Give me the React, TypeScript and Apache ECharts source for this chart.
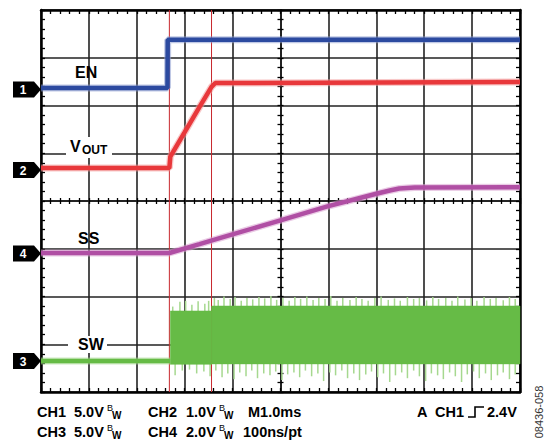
import React, { useEffect, useRef } from "react";
import * as echarts from "echarts";

// Horizontal: time in ms from screen centre (M1.0ms per division, 10 divisions)
// Vertical: each channel in volts, placed by its own V/div and ground marker

const enTime = [-5.0, -2.36, -2.355, 5.0];
const enVolts = [0, 0, 5.05, 5.05];

const voutTime = [-5.0, -2.32, -2.3, -2.0, -1.69, -1.44, -1.36, 5.0];
const voutVolts = [0, 0, 0.24, 0.75, 1.28, 1.7, 1.78, 1.8];

const ssTime = [-5.0, -2.32, -1.69, -1.27, 0, 0.98, 1.98, 2.28, 2.48, 2.8, 5.0];
const ssVolts = [0, 0, 0.37, 0.62, 1.37, 1.95, 2.47, 2.62, 2.7, 2.74, 2.75];

const swLowTime = [-5.0, -2.3];
const swLowVolts = [0, 0];

const swBandTime = [-2.3, -1.44, -1.43, 5.0];
const swBandHigh = [5.24, 5.24, 5.76, 5.76];
const swBandLow = [-0.35, -0.35, -0.3, -0.3];

const swSpikeUpTime = [-2.25, -2.1, -1.98, -1.85, -1.72, -1.58, -1.5, -1.38, -1.3, -1.18, -1.05, -0.95, -0.82, -0.7, -0.58, -0.45, -0.33, -0.2, -0.08, 0.05, 0.18, 0.3, 0.42, 0.55, 0.68, 0.8, 0.93, 1.05, 1.18, 1.3, 1.45, 1.58, 1.7, 1.83, 1.97, 2.1, 2.25, 2.38, 2.5, 2.65, 2.78, 2.9, 3.05, 3.18, 3.3, 3.45, 3.58, 3.7, 3.85, 3.98, 4.1, 4.25, 4.38, 4.5, 4.65, 4.78, 4.9];
const swSpikeUpVolts = [5.7, 6.2, 6.3, 5.9, 6.25, 6.0, 6.3, 6.6, 6.4, 6.75, 6.5, 6.7, 6.3, 6.6, 6.45, 6.7, 6.55, 6.8, 6.4, 6.6, 6.3, 6.7, 6.5, 6.75, 6.4, 6.6, 6.5, 6.8, 6.3, 6.6, 6.4, 6.7, 6.5, 6.3, 6.6, 6.75, 6.4, 6.55, 6.3, 6.7, 6.5, 6.6, 6.35, 6.7, 6.5, 6.6, 6.3, 6.75, 6.45, 6.6, 6.3, 6.7, 6.5, 6.6, 6.35, 6.7, 6.5];

const swSpikeDownTime = [-2.2, -2.05, -1.9, -1.75, -1.6, -1.47, -1.35, -1.22, -1.1, -0.97, -0.85, -0.72, -0.6, -0.48, -0.35, -0.22, -0.1, 0.03, 0.15, 0.28, 0.4, 0.52, 0.65, 0.78, 0.9, 1.03, 1.15, 1.28, 1.4, 1.53, 1.65, 1.78, 1.9, 2.03, 2.15, 2.28, 2.4, 2.53, 2.65, 2.78, 2.9, 3.03, 3.15, 3.28, 3.4, 3.53, 3.65, 3.78, 3.9, 4.03, 4.15, 4.28, 4.4, 4.53, 4.65, 4.78, 4.9];
const swSpikeDownVolts = [-1.5, -1.0, -0.9, -1.3, -1.1, -1.6, -1.0, -1.7, -1.3, -1.9, -1.2, -1.6, -1.0, -1.8, -1.3, -1.5, -1.1, -2.0, -1.4, -1.2, -1.7, -1.0, -1.6, -1.3, -2.1, -1.2, -1.5, -1.0, -1.8, -1.3, -2.0, -1.4, -1.1, -1.7, -1.3, -2.2, -1.5, -1.2, -1.8, -1.0, -1.6, -2.1, -1.3, -1.5, -1.9, -1.2, -1.6, -2.2, -1.4, -1.1, -1.8, -1.3, -2.0, -1.5, -1.2, -1.9, -1.4];

const cursorTime = [-2.32, -1.44];

const channelMarkers = ["1", "2", "4", "3"];

const row1Left = ["CH1", "5.0V", "CH2", "1.0V", "M1.0ms"];
const row2Left = ["CH3", "5.0V", "CH4", "2.0V", "100ns/pt"];
const triggerText = ["A", "CH1", "2.4V"];

// scope channel settings: V/div and ground level (divisions from screen centre)
const CH = {
  en: { scale: 5, ground: 2.366 },
  vout: { scale: 1, ground: 0.691 },
  ss: { scale: 2, ground: -1.089 },
  sw: { scale: 5, ground: -3.351 },
};

const toDiv = (v: number, ch: { scale: number; ground: number }) => ch.ground + v / ch.scale;
const pairs = (t: number[], v: number[], ch: { scale: number; ground: number }) =>
  t.map((x, i) => [x, toDiv(v[i], ch)]);

const FONT = 'Arial, "Liberation Sans", sans-serif';

function makeAxes(dim: "x" | "y") {
  const min = dim === "x" ? -5 : -4;
  const max = dim === "x" ? 5 : 4;
  const base = {
    type: "value",
    min,
    max,
    interval: 1,
    axisLabel: { show: false },
    splitLine: { show: false },
  };
  const border = (position: string, split: boolean) => ({
    ...base,
    position,
    axisLine: { show: true, onZero: false, lineStyle: { color: "#000", width: 2.5 } },
    axisTick: { show: true, inside: true, length: 4, lineStyle: { color: "#000", width: 1.3 } },
    minorTick: { show: true, splitNumber: 5, length: 4, lineStyle: { color: "#000", width: 1.3 } },
    splitLine: { show: split, lineStyle: { color: "#222", width: 1.6 } },
  });
  const centre = (position: string, inside: boolean) => ({
    ...base,
    position,
    axisLine: { show: true, onZero: true, onZeroAxisIndex: 0, lineStyle: { color: "#222", width: 1.6 } },
    axisTick: { show: true, inside, length: 3, lineStyle: { color: "#000", width: 1.3 } },
    minorTick: { show: true, splitNumber: 5, length: 3, lineStyle: { color: "#000", width: 1.3 } },
  });
  return dim === "x"
    ? [border("bottom", true), border("top", false), centre("bottom", true), centre("bottom", false)]
    : [border("left", true), border("right", false), centre("left", true), centre("left", false)];
}

function markerGraphic(label: string, cy: number) {
  return {
    type: "group",
    z: 20,
    children: [
      {
        type: "polygon",
        shape: { points: [[13, cy - 8], [34, cy - 8], [41, cy], [34, cy + 8], [13, cy + 8]] },
        style: { fill: "#000" },
      },
      {
        type: "text",
        x: 23,
        y: cy + 0.5,
        style: { text: label, fill: "#fff", fontSize: 12, fontWeight: "bold", fontFamily: FONT, align: "center", verticalAlign: "middle" },
      },
    ],
  };
}

function txt(text: string, x: number, y: number, size = 14.5, extra: any = {}) {
  return {
    type: "text",
    x,
    y,
    z: 20,
    style: { text, fill: "#000", fontSize: size, fontWeight: "bold", fontFamily: FONT, align: "left", verticalAlign: "middle", ...extra },
  };
}

function bw(x: number, y: number) {
  return [txt("B", x, y - 4, 9, { fontWeight: "normal" }), txt("W", x + 5, y + 3, 10)];
}

export default function App() {
  const ref = useRef<HTMLDivElement>(null);
  useEffect(() => {
    if (!ref.current) return;
    const chart = echarts.init(ref.current, undefined, { renderer: "svg" });

    const markerYs = [89.5, 170, 253.5, 361];
    const row1y = 412;
    const row2y = 432;

    const graphic: any[] = [
      ...channelMarkers.map((m, i) => markerGraphic(m, markerYs[i])),
      txt("EN", 75, 72, 16),
      { type: "rect", z: 15, shape: { x: 66, y: 137, width: 46, height: 21 }, style: { fill: "#fff" } },
      txt("V", 70, 146, 16),
      txt("OUT", 82, 150, 12),
      txt("SS", 78, 238, 16),
      { type: "rect", z: 15, shape: { x: 68, y: 336, width: 39, height: 17 }, style: { fill: "#fff" } },
      txt("SW", 78, 344, 16),
      // bottom status lines
      txt(row1Left[0], 37, row1y),
      txt(row1Left[1], 74, row1y),
      ...bw(107, row1y),
      txt(row1Left[2], 148, row1y),
      txt(row1Left[3], 186, row1y),
      ...bw(219, row1y),
      txt(row1Left[4], 248, row1y),
      txt(row2Left[0], 37, row2y),
      txt(row2Left[1], 74, row2y),
      ...bw(107, row2y),
      txt(row2Left[2], 148, row2y),
      txt(row2Left[3], 186, row2y),
      ...bw(219, row2y),
      txt(row2Left[4], 243, row2y),
      txt(triggerText[0], 417, row1y),
      txt(triggerText[1], 435, row1y),
      {
        type: "polyline",
        z: 20,
        shape: { points: [[468, row1y + 5], [475, row1y + 5], [475, row1y - 5], [484, row1y - 5]] },
        style: { stroke: "#000", lineWidth: 1.6, fill: "none" },
      },
      txt(triggerText[2], 487, row1y),
      {
        type: "text",
        x: 539,
        y: 412,
        z: 20,
        rotation: Math.PI / 2,
        style: { text: "08436-058", fill: "#333", fontSize: 11, fontFamily: FONT, align: "center", verticalAlign: "middle" },
      },
    ];

    const traceLine = (name: string, data: number[][], color: string, halo: string) => [
      {
        name: name + "-halo",
        type: "line",
        data,
        showSymbol: false,
        symbol: "none",
        z: 4,
        lineStyle: { color: halo, width: 7, opacity: 0.55 },
        silent: true,
      },
      {
        name,
        type: "line",
        data,
        showSymbol: false,
        symbol: "none",
        z: 5,
        lineStyle: { color, width: 4.5 },
        silent: true,
      },
    ];

    const swMid = toDiv(2.5, CH.sw);

    const option: any = {
      animation: false,
      grid: { left: 41, top: 10, width: 479, height: 382 },
      xAxis: makeAxes("x"),
      yAxis: makeAxes("y"),
      graphic,
      series: [
        ...cursorTime.map((t) => ({
          type: "line",
          data: [[t, -4], [t, 4]],
          showSymbol: false,
          symbol: "none",
          z: 3,
          lineStyle: { color: "#c8282e", width: 1 },
          silent: true,
        })),
        ...traceLine("EN", pairs(enTime, enVolts, CH.en), "#2c4aa0", "#8a9ad0"),
        ...traceLine("VOUT", pairs(voutTime, voutVolts, CH.vout), "#e8383b", "#f29a9a"),
        ...traceLine("SS", pairs(ssTime, ssVolts, CH.ss), "#b04fa4", "#d8a0d0"),
        ...traceLine("SW", pairs(swLowTime, swLowVolts, CH.sw), "#66bb46", "#a6d88f"),
        {
          type: "custom",
          z: 4,
          silent: true,
          data: [
            ...swSpikeUpTime.map((t, i) => [t, swMid, toDiv(swSpikeUpVolts[i], CH.sw)]),
            ...swSpikeDownTime.map((t, i) => [t, swMid, toDiv(swSpikeDownVolts[i], CH.sw)]),
          ],
          renderItem: (params: any, api: any) => {
            const a = api.coord([api.value(0), api.value(1)]);
            const b = api.coord([api.value(0), api.value(2)]);
            return {
              type: "line",
              shape: { x1: a[0], y1: a[1], x2: b[0], y2: b[1] },
              style: { stroke: "#a6d88f", lineWidth: 1.5 },
            };
          },
        },
        {
          type: "custom",
          z: 5,
          silent: true,
          data: swBandTime.slice(0, -1).map((t, i) => [t, toDiv(swBandLow[i], CH.sw), toDiv(swBandHigh[i], CH.sw)]),
          renderItem: (params: any, api: any) => {
            const i = params.dataIndex;
            const p = [
              api.coord([swBandTime[i], toDiv(swBandHigh[i], CH.sw)]),
              api.coord([swBandTime[i + 1], toDiv(swBandHigh[i + 1], CH.sw)]),
              api.coord([swBandTime[i + 1], toDiv(swBandLow[i + 1], CH.sw)]),
              api.coord([swBandTime[i], toDiv(swBandLow[i], CH.sw)]),
            ];
            return { type: "polygon", shape: { points: p }, style: { fill: "#66bb46", stroke: "#66bb46", lineWidth: 0.5 } };
          },
        },
      ],
    };
    chart.setOption(option);
    return () => chart.dispose();
  }, []);
  return <div ref={ref} style={{ position: "absolute", left: 0, top: 0, width: 545, height: 443, background: "#fff" }} />;
}
